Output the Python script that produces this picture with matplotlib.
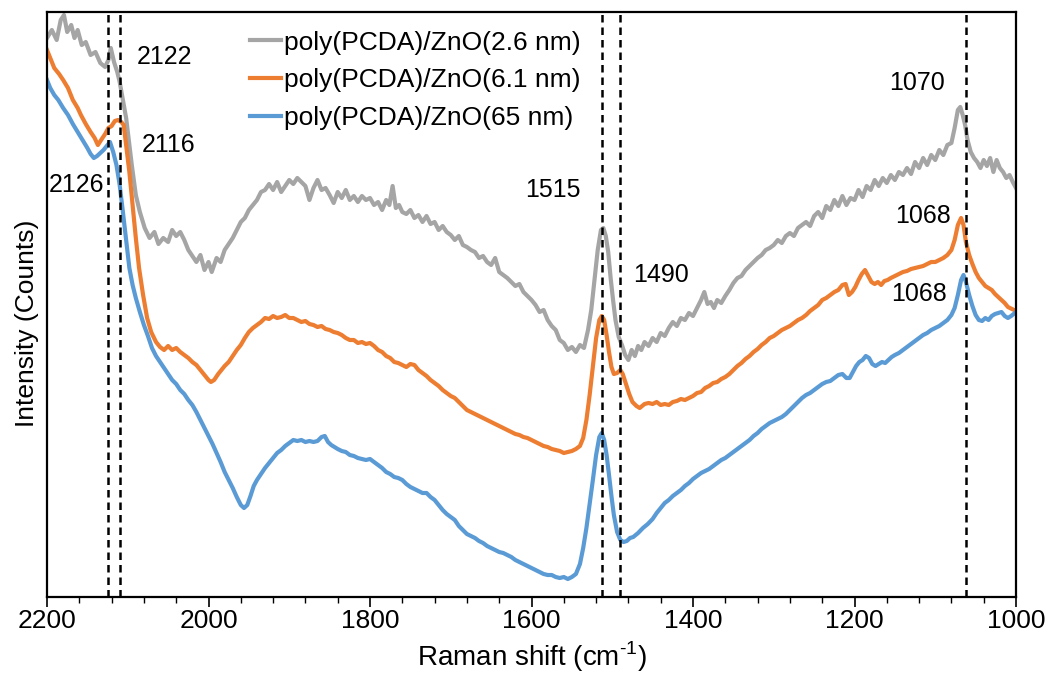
import matplotlib
matplotlib.use("Agg")
import matplotlib.pyplot as plt
from matplotlib.ticker import MultipleLocator

plt.rcParams["font.family"] = ["Liberation Sans", "DejaVu Sans"]
plt.rcParams["mathtext.fontset"] = "custom"
plt.rcParams["mathtext.rm"] = "Liberation Sans"

# Raman spectra (intensity in arbitrary counts)
gray_x = [2200, 2194, 2188, 2183, 2179, 2175, 2170, 2166, 2162, 2157, 2152, 2146, 2140, 2134,
          2128, 2124, 2121, 2117, 2113, 2110, 2106, 2102, 2098, 2095, 2090, 2085, 2079, 2073,
          2067, 2062, 2056, 2050, 2045, 2040, 2035, 2030, 2025, 2020, 2015, 2010, 2005, 2000,
          1996, 1990, 1985, 1980, 1975, 1970, 1965, 1960, 1955, 1950, 1945, 1940, 1935, 1930,
          1925, 1920, 1915, 1910, 1905, 1900, 1895, 1890, 1885, 1880, 1875, 1870, 1865, 1860,
          1855, 1850, 1845, 1840, 1835, 1830, 1825, 1820, 1815, 1810, 1805, 1800, 1795, 1790,
          1785, 1780, 1776, 1772, 1768, 1764, 1760, 1755, 1750, 1745, 1740, 1735, 1730, 1725,
          1720, 1715, 1710, 1705, 1700, 1695, 1690, 1685, 1680, 1675, 1670, 1665, 1660, 1655,
          1650, 1645, 1640, 1635, 1630, 1625, 1620, 1615, 1610, 1605, 1600, 1595, 1590, 1585,
          1580, 1575, 1570, 1565, 1560, 1555, 1550, 1545, 1540, 1535, 1530, 1526, 1522, 1518,
          1514, 1511, 1508, 1505, 1502, 1499, 1496, 1492, 1488, 1484, 1480, 1476, 1472, 1468,
          1464, 1460, 1455, 1450, 1445, 1440, 1435, 1430, 1425, 1420, 1415, 1410, 1405, 1400,
          1395, 1390, 1386, 1382, 1378, 1374, 1370, 1365, 1360, 1355, 1350, 1345, 1340, 1335,
          1330, 1325, 1320, 1315, 1310, 1305, 1300, 1295, 1290, 1285, 1280, 1275, 1270, 1265,
          1260, 1255, 1250, 1245, 1240, 1235, 1230, 1225, 1220, 1215, 1210, 1205, 1200, 1195,
          1190, 1185, 1180, 1175, 1170, 1165, 1160, 1155, 1150, 1145, 1140, 1135, 1130, 1125,
          1120, 1115, 1110, 1105, 1100, 1095, 1090, 1085, 1080, 1076, 1072, 1069, 1066, 1063,
          1060, 1056, 1052, 1048, 1044, 1040, 1036, 1032, 1028, 1024, 1020, 1016, 1012, 1008,
          1004, 1000]
gray_y = [559, 567, 557, 577, 582, 565, 572, 559, 567, 552, 555, 542, 545, 534,
          530, 537, 549, 535, 525, 515, 497, 479, 452, 432, 402, 385, 369, 359,
          365, 353, 359, 355, 367, 361, 365, 357, 347, 341, 335, 342, 327, 335,
          325, 339, 335, 347, 353, 359, 367, 375, 379, 387, 392, 397, 405, 407,
          413, 407, 415, 405, 411, 417, 413, 419, 415, 411, 397, 409, 417, 407,
          409, 402, 394, 405, 399, 407, 397, 401, 395, 401, 397, 399, 392, 395,
          387, 397, 392, 411, 389, 392, 385, 383, 387, 379, 382, 375, 381, 373,
          375, 367, 371, 365, 362, 357, 361, 352, 350, 347, 345, 339, 341, 335,
          332, 339, 325, 322, 319, 315, 311, 313, 305, 301, 297, 292, 285, 287,
          277, 271, 267, 257, 254, 247, 250, 245, 252, 249, 267, 287, 317, 347,
          367, 369, 361, 345, 319, 297, 277, 260, 252, 242, 237, 247, 241, 251,
          247, 255, 251, 259, 255, 264, 261, 269, 275, 271, 279, 277, 284, 281,
          289, 297, 305, 293, 295, 289, 297, 294, 301, 307, 314, 319, 321, 327,
          331, 335, 339, 342, 347, 349, 352, 357, 354, 361, 364, 361, 369, 372,
          375, 371, 381, 385, 379, 391, 387, 397, 391, 401, 392, 399, 397, 407,
          400, 411, 407, 417, 411, 419, 414, 422, 417, 425, 422, 429, 423, 435,
          429, 439, 432, 442, 437, 447, 442, 452, 454, 469, 487, 490, 482, 472,
          457, 445, 439, 435, 429, 437, 431, 439, 425, 437, 429, 425, 419, 422,
          415, 409]

orange_x = [2200, 2196, 2191, 2185, 2180, 2174, 2168, 2162, 2158, 2152, 2146, 2141, 2137, 2133,
            2128, 2124, 2120, 2116, 2112, 2108, 2105, 2102, 2098, 2094, 2090, 2086, 2081, 2076,
            2071, 2065, 2060, 2055, 2050, 2045, 2040, 2035, 2030, 2025, 2020, 2015, 2010, 2005,
            2000, 1997, 1993, 1988, 1984, 1980, 1975, 1970, 1965, 1960, 1955, 1950, 1945, 1940,
            1935, 1930, 1925, 1920, 1915, 1910, 1905, 1900, 1895, 1890, 1885, 1880, 1875, 1870,
            1865, 1860, 1855, 1850, 1845, 1840, 1835, 1830, 1825, 1820, 1815, 1810, 1805, 1800,
            1795, 1790, 1785, 1780, 1775, 1770, 1765, 1760, 1755, 1750, 1745, 1740, 1735, 1730,
            1725, 1720, 1715, 1710, 1705, 1700, 1695, 1690, 1685, 1680, 1675, 1670, 1665, 1660,
            1655, 1650, 1645, 1640, 1635, 1630, 1625, 1620, 1615, 1610, 1605, 1600, 1595, 1590,
            1585, 1580, 1575, 1570, 1565, 1560, 1555, 1550, 1545, 1540, 1536, 1532, 1528, 1524,
            1520, 1516, 1513, 1510, 1507, 1504, 1501, 1498, 1494, 1490, 1487, 1483, 1479, 1475,
            1470, 1466, 1460, 1455, 1450, 1445, 1440, 1435, 1430, 1425, 1420, 1415, 1410, 1405,
            1400, 1395, 1390, 1385, 1380, 1375, 1370, 1365, 1360, 1355, 1350, 1345, 1340, 1335,
            1330, 1325, 1320, 1315, 1310, 1305, 1300, 1295, 1290, 1285, 1280, 1275, 1270, 1265,
            1260, 1255, 1250, 1245, 1240, 1235, 1230, 1225, 1220, 1215, 1211, 1207, 1203, 1199,
            1195, 1191, 1187, 1183, 1179, 1175, 1171, 1167, 1163, 1159, 1155, 1150, 1145, 1140,
            1135, 1130, 1125, 1120, 1115, 1110, 1105, 1100, 1095, 1090, 1085, 1080, 1076, 1072,
            1068, 1065, 1062, 1058, 1054, 1050, 1046, 1042, 1038, 1034, 1030, 1026, 1022, 1018,
            1014, 1010, 1005, 1000]
orange_y = [547, 539, 529, 523, 517, 509, 497, 489, 482, 473, 465, 459, 452, 457,
            463, 469, 471, 476, 477, 475, 472, 452, 425, 392, 359, 329, 302, 279,
            265, 255, 250, 247, 251, 247, 249, 245, 242, 239, 235, 232, 227, 222,
            217, 215, 217, 223, 227, 231, 235, 241, 247, 252, 259, 265, 269, 272,
            275, 279, 278, 281, 279, 280, 282, 279, 279, 277, 275, 276, 273, 272,
            270, 271, 268, 267, 265, 264, 262, 259, 257, 257, 254, 255, 253, 254,
            251, 247, 245, 241, 239, 235, 234, 232, 230, 233, 232, 227, 224, 221,
            217, 214, 211, 207, 204, 201, 199, 195, 191, 187, 185, 183, 181, 179,
            177, 175, 173, 171, 169, 167, 165, 163, 162, 160, 159, 157, 155, 153,
            151, 150, 148, 147, 146, 144, 145, 146, 148, 151, 159, 177, 202, 231,
            259, 277, 281, 277, 262, 245, 230, 223, 224, 227, 223, 213, 203, 195,
            191, 189, 193, 194, 193, 195, 192, 193, 192, 195, 196, 198, 197, 199,
            201, 204, 205, 209, 211, 214, 215, 218, 220, 223, 227, 231, 234, 238,
            241, 245, 248, 252, 255, 259, 261, 264, 267, 269, 271, 274, 277, 279,
            282, 286, 289, 292, 297, 299, 302, 305, 307, 312, 313, 302, 305, 310,
            317, 323, 327, 321, 315, 313, 315, 312, 316, 317, 319, 321, 323, 325,
            326, 328, 329, 330, 331, 333, 335, 335, 337, 339, 342, 347, 357, 372,
            379, 372, 355, 342, 333, 325, 319, 315, 311, 309, 307, 303, 300, 297,
            294, 290, 288, 286]

blue_x = [2200, 2196, 2191, 2186, 2180, 2174, 2168, 2162, 2156, 2150, 2146, 2142, 2138, 2134,
          2130, 2126, 2122, 2118, 2114, 2110, 2106, 2102, 2098, 2094, 2090, 2085, 2080, 2075,
          2070, 2065, 2060, 2055, 2050, 2045, 2040, 2035, 2030, 2025, 2020, 2015, 2010, 2005,
          2000, 1995, 1990, 1985, 1980, 1975, 1970, 1965, 1960, 1956, 1952, 1948, 1944, 1940,
          1935, 1930, 1925, 1920, 1915, 1910, 1905, 1900, 1895, 1890, 1885, 1880, 1875, 1870,
          1865, 1860, 1856, 1852, 1848, 1844, 1840, 1835, 1830, 1825, 1820, 1815, 1810, 1805,
          1800, 1795, 1790, 1785, 1780, 1775, 1770, 1765, 1760, 1755, 1750, 1745, 1740, 1735,
          1730, 1725, 1720, 1715, 1710, 1705, 1700, 1695, 1690, 1685, 1680, 1675, 1670, 1665,
          1660, 1655, 1650, 1645, 1640, 1635, 1630, 1625, 1620, 1615, 1610, 1605, 1600, 1595,
          1590, 1585, 1580, 1575, 1570, 1565, 1560, 1555, 1550, 1545, 1540, 1536, 1532, 1528,
          1524, 1520, 1516, 1513, 1510, 1507, 1504, 1501, 1498, 1494, 1490, 1486, 1482, 1478,
          1474, 1468, 1462, 1456, 1450, 1445, 1440, 1435, 1430, 1425, 1420, 1415, 1410, 1405,
          1400, 1395, 1390, 1385, 1380, 1375, 1370, 1365, 1360, 1355, 1350, 1345, 1340, 1335,
          1330, 1325, 1320, 1315, 1310, 1305, 1300, 1295, 1290, 1285, 1280, 1275, 1270, 1265,
          1260, 1255, 1250, 1245, 1240, 1235, 1230, 1225, 1220, 1215, 1210, 1206, 1202, 1198,
          1194, 1190, 1186, 1182, 1178, 1174, 1170, 1166, 1162, 1158, 1154, 1150, 1145, 1140,
          1135, 1130, 1125, 1120, 1115, 1110, 1105, 1100, 1095, 1090, 1085, 1080, 1076, 1072,
          1068, 1065, 1062, 1058, 1054, 1050, 1046, 1042, 1038, 1034, 1030, 1026, 1022, 1018,
          1014, 1010, 1006, 1003, 1000]
blue_y = [517, 509, 502, 497, 489, 482, 473, 465, 457, 449, 443, 439, 441, 444,
          447, 451, 455, 445, 432, 412, 385, 357, 329, 312, 299, 285, 272, 261,
          249, 241, 235, 229, 223, 217, 213, 207, 203, 197, 192, 185, 177, 169,
          161, 153, 144, 135, 125, 117, 109, 100, 92, 89, 92, 101, 111, 117,
          123, 129, 134, 139, 144, 147, 151, 154, 157, 156, 157, 155, 156, 155,
          156, 160, 161, 155, 152, 150, 148, 146, 145, 142, 141, 139, 138, 137,
          138, 135, 132, 129, 125, 123, 120, 119, 117, 113, 110, 108, 106, 104,
          104, 100, 97, 92, 87, 83, 80, 77, 71, 67, 63, 61, 59, 56,
          54, 51, 49, 47, 45, 44, 42, 40, 37, 35, 33, 31, 29, 27,
          25, 23, 22, 22, 20, 19, 20, 18, 20, 23, 33, 49, 69, 93,
          117, 142, 160, 164, 157, 142, 122, 101, 82, 65, 57, 55, 56, 59,
          60, 64, 69, 73, 78, 84, 89, 94, 97, 101, 104, 107, 111, 114,
          118, 121, 124, 126, 128, 131, 134, 137, 139, 142, 145, 148, 151, 154,
          157, 161, 164, 168, 171, 174, 176, 178, 180, 183, 187, 191, 195, 199,
          202, 204, 207, 210, 213, 215, 216, 219, 222, 223, 219, 219, 225, 231,
          235, 237, 241, 239, 233, 231, 233, 235, 234, 237, 240, 242, 244, 247,
          250, 253, 256, 259, 262, 264, 267, 269, 271, 274, 277, 282, 289, 302,
          317, 322, 315, 302, 291, 282, 277, 276, 279, 277, 281, 283, 284, 285,
          281, 279, 281, 283, 285]

series_labels = ["poly(PCDA)/ZnO(2.6 nm)", "poly(PCDA)/ZnO(6.1 nm)", "poly(PCDA)/ZnO(65 nm)"]
series_colors = ["#A5A5A5", "#ED7D31", "#5B9BD5"]

peak_lines = [2125, 2109, 1513, 1490, 1062]
peak_labels = ["2122", "2116", "2126", "1515", "1490", "1070", "1068", "1068"]
peak_label_x = [2054, 2050, 2164, 1573, 1440, 1123, 1115, 1120]
peak_label_y = [540, 452, 412, 407, 322, 514, 381, 303]

fig = plt.figure(figsize=(10.57, 6.80), dpi=100)
ax = fig.add_axes([47 / 1057, 1 - 597 / 680, 969 / 1057, 585 / 680])

for xs, ys, lab, col in zip([gray_x, orange_x, blue_x], [gray_y, orange_y, blue_y],
                            series_labels, series_colors):
    ax.plot(xs, ys, color=col, lw=3.0, label=lab, solid_joinstyle="round")

for p in peak_lines:
    ax.axvline(p, color="black", lw=1.8, ls=(0, (3, 2)), zorder=3)

for t, x, y in zip(peak_labels, peak_label_x, peak_label_y):
    ax.text(x, y, t, fontsize=18, ha="center", va="center")

ax.set_xlim(2200, 1000)
ax.set_ylim(0, 585)
ax.set_yticks([])
ax.xaxis.set_major_locator(MultipleLocator(200))
ax.xaxis.set_minor_locator(MultipleLocator(40))
ax.tick_params(axis="x", which="major", direction="out", length=7, width=1.2,
               labelsize=19, pad=2)
ax.tick_params(axis="x", which="minor", direction="out", length=4, width=1.0)
for s in ax.spines.values():
    s.set_linewidth(1.6)

ax.set_xlabel(r"Raman shift (cm$^{\text{-1}}$)", fontsize=20, labelpad=4)
ax.set_ylabel("Intensity (Counts)", fontsize=19, labelpad=6)
ax.yaxis.set_label_coords(-0.008, 0.467)

ax.legend(loc="upper left", bbox_to_anchor=(0.209, 0.968), frameon=False,
          fontsize=19, handlelength=1.2, handletextpad=0.1, labelspacing=0.52,
          borderpad=0, borderaxespad=0)

fig.savefig("out.png", dpi=100)
